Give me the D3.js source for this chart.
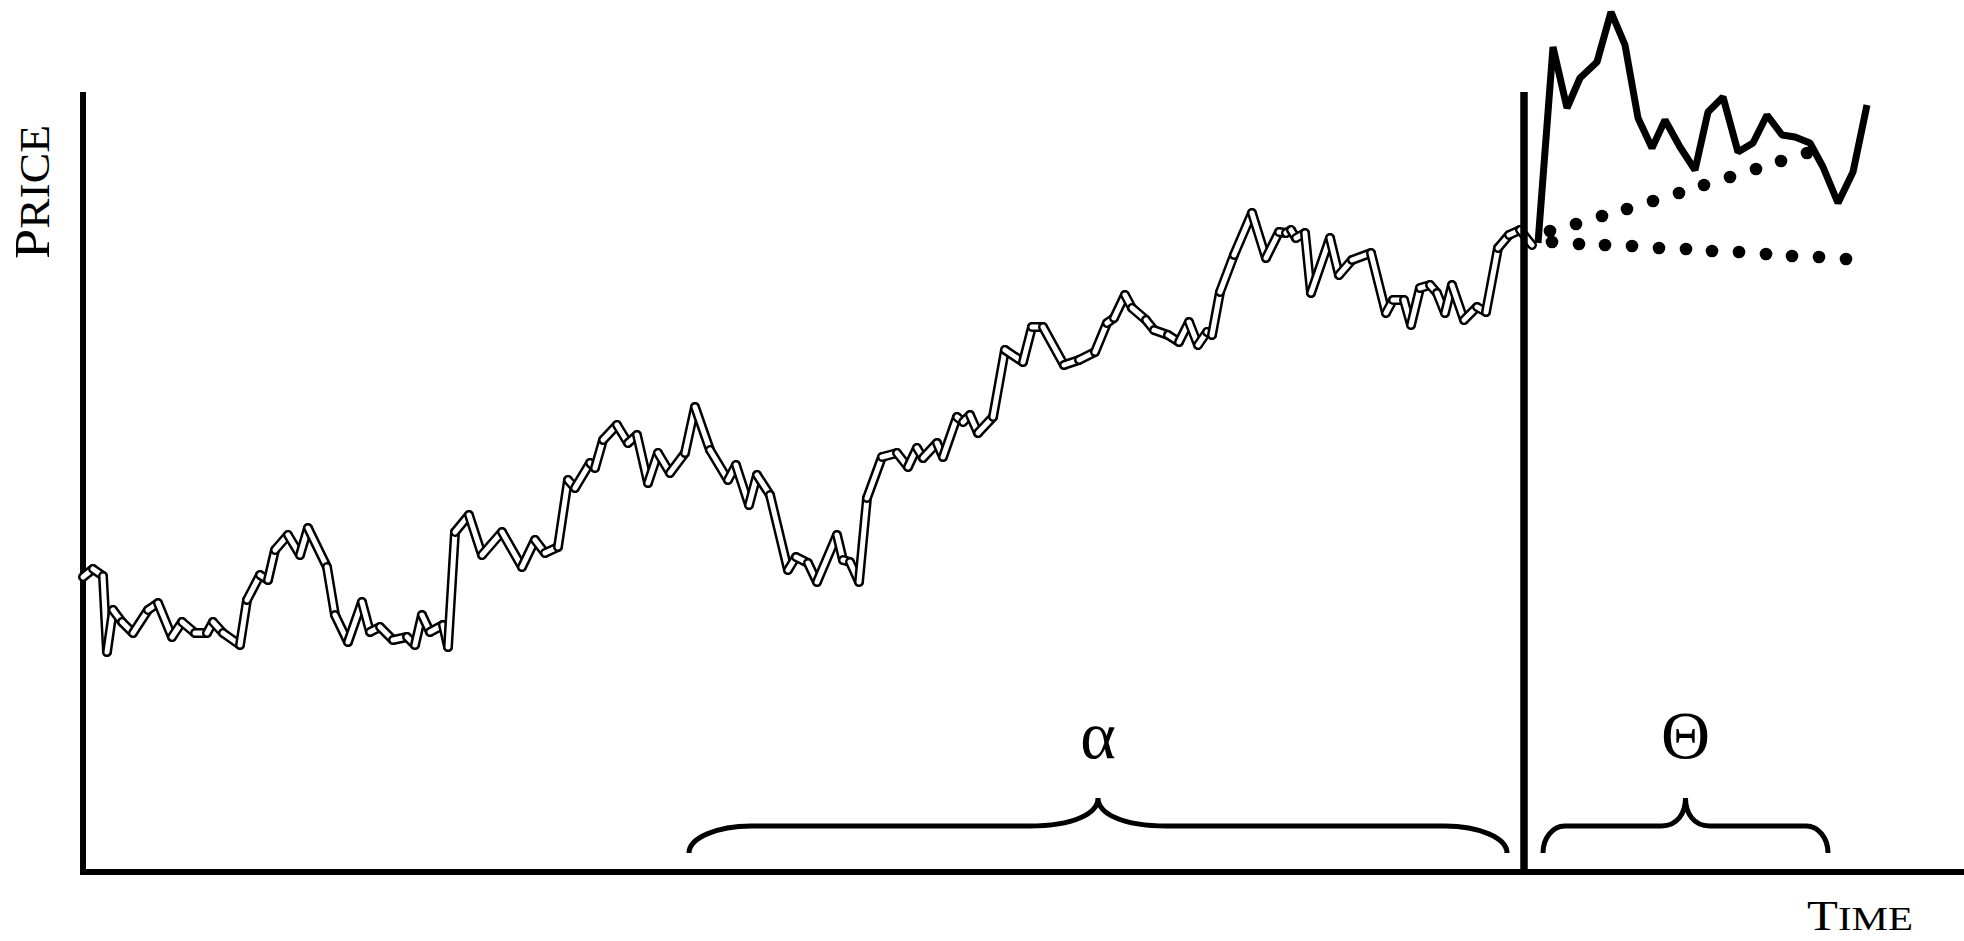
<!DOCTYPE html>
<html><head><meta charset="utf-8">
<script src="https://cdn.jsdelivr.net/npm/d3@7"></script>
<style>html,body{margin:0;padding:0;background:#fff;overflow:hidden}svg{display:block}</style>
</head><body>
<script>
// ---- data ----
const histTime = [0, 2.0, 4.0, 4.8, 6.0, 7.8, 10.0, 13.0, 15.0, 17.8,
  19.8, 22.4, 24.8, 26.0, 28.0, 31.4, 32.8, 35.4, 37.0, 38.4,
  41.0, 43.4, 45.0, 48.8, 50.4, 53.0, 55.8, 57.4, 59.4, 62.0,
  64.8, 66.4, 67.8, 69.4, 72.0, 73.0, 74.4, 77.2, 79.8, 83.8,
  87.8, 90.4, 92.4, 95.0, 97.0, 98.4, 101.4, 102.4, 104.0, 106.8,
  109.0, 110.8, 113.0, 115.0, 117.4, 120.4, 122.4, 125.4, 129.0, 130.6,
  133.2, 134.8, 137.4, 141.0, 142.6, 145.0, 146.8, 150.8, 152.0, 153.4,
  155.2, 156.8, 159.8, 162.8, 165.0, 166.8, 168.0, 170.8, 172.0, 174.8,
  176.0, 177.4, 179.0, 182.0, 184.4, 188.0, 189.8, 192.0, 196.2, 199.2,
  202.4, 204.8, 206.2, 208.4, 209.8, 212.6, 214.2, 217.0, 219.2, 221.2,
  223.0, 224.8, 225.8, 227.4, 230.2, 233.8, 236.6, 239.2, 240.6, 241.6,
  242.6, 244.4, 245.6, 249.4, 251.2, 253.8, 257.6, 260.6, 262.0, 264.2,
  265.6, 267.4, 269.4, 270.8, 272.4, 273.8, 276.2, 278.8, 280.6, 283.0,
  285.2, 287.4, 289.8];
const histPrice = [59.0, 60.6, 59.2, 44.0, 52.4, 50.0, 47.8, 52.4, 53.8, 47.0,
  50.0, 47.8, 47.8, 50.0, 47.8, 45.4, 54.4, 59.4, 58.4, 64.4,
  67.4, 63.4, 68.8, 61.0, 51.4, 46.0, 54.0, 48.0, 49.0, 46.4,
  47.0, 45.4, 51.4, 48.0, 49.4, 45.0, 68.0, 71.4, 63.4, 68.0,
  61.0, 66.4, 63.8, 65.0, 78.4, 76.8, 81.8, 80.8, 86.4, 89.4,
  85.8, 87.4, 77.8, 83.8, 79.8, 83.8, 93.0, 84.4, 78.4, 81.4,
  73.4, 79.4, 75.4, 60.4, 63.0, 61.8, 58.0, 67.4, 62.4, 62.0,
  58.0, 74.8, 83.0, 83.8, 81.0, 84.8, 82.8, 85.8, 83.0, 91.0,
  90.0, 91.4, 87.8, 91.0, 104.4, 102.0, 109.0, 109.0, 101.4, 102.4,
  104.0, 109.8, 110.8, 115.4, 112.8, 110.4, 108.4, 107.4, 106.0, 110.0,
  105.4, 108.0, 107.4, 116.0, 123.4, 131.8, 122.8, 128.0, 127.8, 128.4,
  126.8, 127.8, 115.8, 126.8, 119.4, 122.4, 123.8, 111.8, 114.4, 114.4,
  109.4, 116.8, 117.4, 115.8, 111.8, 117.4, 110.4, 113.0, 112.0, 124.8,
  127.4, 128.4, 125.4];

const forecastTime = [291.0, 294.0, 296.8, 299.4, 302.8, 305.6, 308.4, 311.0, 313.8, 316.4,
  319.4, 322.4, 325.0, 328.0, 331.0, 334.0, 336.8, 339.8, 342.4, 345.4, 348.0, 351.0, 354.0, 356.8];
const forecastPrice = [125.8, 165.0, 152.8, 158.8, 162.0, 172.0, 165.4, 150.8, 144.8, 150.4,
  145.0, 140.4, 152.0, 155.0, 144.0, 145.8, 151.4, 147.4, 147.0, 145.8, 141.0, 133.8, 140.0, 153.4];

const upperTime = [293.4, 298.6, 303.8, 308.8, 314.0, 319.2, 324.2, 329.4, 334.6, 339.6, 344.8];
const upperPrice = [128.2, 129.6, 131.2, 132.6, 134.2, 135.8, 137.4, 139.0, 140.6, 142.2, 143.8];
const lowerTime = [293.8, 299.2, 304.4, 309.8, 315.2, 320.6, 325.8, 331.2, 336.6, 341.8, 347.2, 352.6];
const lowerPrice = [126.0, 125.6, 125.4, 125.2, 124.8, 124.6, 124.2, 124.0, 123.6, 123.2, 123.0, 122.6];

const splitTime = 288.2;
const braceLabels = ["α", "Θ"];
const braceStart = [121.2, 292.0];
const braceEnd = [284.8, 349.0];
const axisTitles = ["Price", "Time"];

// ---- chart ----
const W = 1964, H = 941;
const x = d3.scaleLinear().domain([0, 376.2]).range([83, 1964]);
const y = d3.scaleLinear().domain([0, 156]).range([872, 92]);

const svg = d3.select("body").append("svg").attr("width", W).attr("height", H);
const serif = "'Liberation Serif', 'Times New Roman', serif";

const zipPts = (ts, ps) => d3.range(Math.min(ts.length, ps.length)).map(i => [ts[i], ps[i]]);
const hist = zipPts(histTime, histPrice);
const fc = zipPts(forecastTime, forecastPrice);
const up = zipPts(upperTime, upperPrice);
const lo = zipPts(lowerTime, lowerPrice);

// axes (no ticks)
svg.append("line").attr("x1", x(0)).attr("x2", x(0)).attr("y1", y(0) + 3).attr("y2", y(156))
  .attr("stroke", "#000").attr("stroke-width", 6);
svg.append("line").attr("x1", x(0) - 3).attr("x2", x(376.2)).attr("y1", y(0)).attr("y2", y(0))
  .attr("stroke", "#000").attr("stroke-width", 6);

// historical series: outlined line drawn segment by segment
const segs = d3.pairs(hist);
const sg = svg.append("g");
segs.forEach(([a, b]) => {
  sg.append("line").attr("x1", x(a[0])).attr("y1", y(a[1])).attr("x2", x(b[0])).attr("y2", y(b[1]))
    .attr("stroke", "#000").attr("stroke-width", 10).attr("stroke-linecap", "round");
  sg.append("line").attr("x1", x(a[0])).attr("y1", y(a[1])).attr("x2", x(b[0])).attr("y2", y(b[1]))
    .attr("stroke", "#fff").attr("stroke-width", 5).attr("stroke-linecap", "round");
});

// split line
svg.append("line").attr("x1", x(splitTime)).attr("x2", x(splitTime)).attr("y1", y(0)).attr("y2", y(156))
  .attr("stroke", "#000").attr("stroke-width", 7.5);

// forecast solid
svg.append("path").datum(fc)
  .attr("d", d3.line().x(d => x(d[0])).y(d => y(d[1])))
  .attr("fill", "none").attr("stroke", "#000").attr("stroke-width", 7).attr("stroke-linejoin", "bevel");

// dotted scenarios
[up, lo].forEach(pts => {
  svg.append("g").selectAll("circle").data(pts).join("circle")
    .attr("cx", d => x(d[0])).attr("cy", d => y(d[1])).attr("r", 6.3).attr("fill", "#000");
});

// braces
function bracePath(x0, x1) {
  const yb = 853, yf = 826, yt = 798;
  const w = x1 - x0, e = w * 0.076, c = w * 0.084, xm = (x0 + x1) / 2, k = 0.552;
  return `M${x0},${yb} C${x0},${yb - k * (yb - yf)} ${x0 + e - k * e},${yf} ${x0 + e},${yf}` +
    ` L${xm - c},${yf} C${xm - c * 0.35},${yf} ${xm},${yf - (yf - yt) * 0.45} ${xm},${yt}` +
    ` C${xm},${yf - (yf - yt) * 0.45} ${xm + c * 0.35},${yf} ${xm + c},${yf}` +
    ` L${x1 - e},${yf} C${x1 - e + k * e},${yf} ${x1},${yb - k * (yb - yf)} ${x1},${yb}`;
}
braceLabels.forEach((lab, i) => {
  const x0 = x(braceStart[i]), x1 = x(braceEnd[i]);
  svg.append("path").attr("d", bracePath(x0, x1)).attr("fill", "none")
    .attr("stroke", "#000").attr("stroke-width", 5).attr("stroke-linecap", "butt");
  svg.append("text").attr("x", (x0 + x1) / 2).attr("y", 758).attr("text-anchor", "middle")
    .attr("font-family", serif).attr("font-size", 68).attr("fill", "#000").text(lab);
});

// axis titles in small caps
function smallCaps(sel, word, big, small) {
  sel.append("tspan").attr("font-size", big).text(word[0].toUpperCase());
  sel.append("tspan").attr("font-size", small).text(word.slice(1).toUpperCase());
}
const yt = svg.append("text").attr("transform", "translate(49,192) rotate(-90)")
  .attr("text-anchor", "middle").attr("font-family", serif).attr("fill", "#000")
  .attr("textLength", 134).attr("lengthAdjust", "spacingAndGlyphs");
smallCaps(yt, axisTitles[0], 50, 42);
const xt = svg.append("text").attr("x", 1860).attr("y", 930)
  .attr("text-anchor", "middle").attr("font-family", serif).attr("fill", "#000")
  .attr("textLength", 106).attr("lengthAdjust", "spacingAndGlyphs");
smallCaps(xt, axisTitles[1], 42, 34);
</script>
</body></html>
